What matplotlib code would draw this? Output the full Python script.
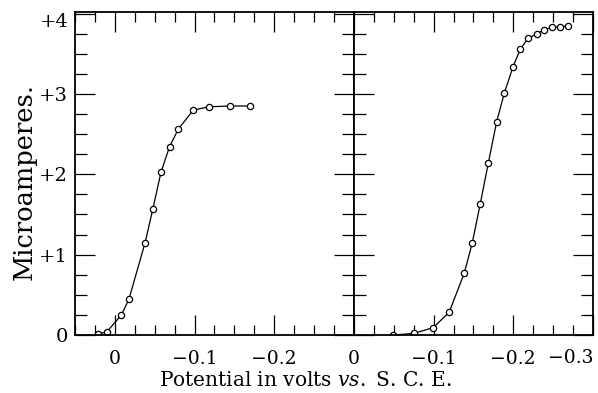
import matplotlib
matplotlib.use("Agg")
import matplotlib.pyplot as plt
from matplotlib.ticker import MultipleLocator, FixedLocator, FixedFormatter

# Data (potential in volts vs. S.C.E., current in microamperes)
left_potential = [0.0215, 0.010, -0.0083, -0.0178, -0.038, -0.0476, -0.058, -0.0687,
                  -0.0795, -0.0985, -0.118, -0.144, -0.170]
left_current = [0.01, 0.04, 0.25, 0.45, 1.15, 1.565, 2.03, 2.345,
                2.56, 2.80, 2.84, 2.85, 2.85]

right_potential = [-0.0494, -0.0755, -0.0997, -0.1195, -0.1384, -0.1484, -0.1585, -0.1686,
                   -0.179, -0.1887, -0.1996, -0.2088, -0.2189, -0.2296, -0.2386, -0.249,
                   -0.2589, -0.2692]
right_current = [0.0, 0.02, 0.093, 0.283, 0.768, 1.142, 1.631, 2.138,
                 2.650, 3.010, 3.337, 3.559, 3.695, 3.748, 3.802, 3.829,
                 3.838, 3.842]

y_ticks = [0, 1, 2, 3, 4]
y_ticklabels = ["0", "+1", "+2", "+3", "+4"]
left_xticks = [0, -0.1, -0.2]
left_xticklabels = ["0", "\u22120.1", "\u22120.2"]
right_xticks = [0, -0.1, -0.2, -0.3]
right_xticklabels = ["0", "\u22120.1", "\u22120.2", "\u22120.3"]

plt.rcParams['font.family'] = ['DejaVu Serif']
plt.rcParams['mathtext.fontset'] = 'dejavuserif'

W, H = 598, 393
AX_L, AX_R, AX_T, AX_B = 75, 593, 12, 335

fig = plt.figure(figsize=(W / 100, H / 100), dpi=100)
gs = fig.add_gridspec(1, 2, width_ratios=[0.35, 0.30], wspace=0,
                      left=AX_L / W, right=AX_R / W, bottom=1 - AX_B / H, top=1 - AX_T / H)
axL = fig.add_subplot(gs[0])
axR = fig.add_subplot(gs[1], sharey=axL)

for ax in (axL, axR):
    for s in ax.spines.values():
        s.set_linewidth(1.3)
    ax.set_ylim(0, 4.02)
    ax.yaxis.set_major_locator(FixedLocator(y_ticks))
    ax.yaxis.set_minor_locator(MultipleLocator(0.25))
    ax.xaxis.set_minor_locator(MultipleLocator(0.025))
    ax.tick_params(which='both', direction='in', top=True, bottom=True, left=True, right=True,
                   width=0.9, color='black')
    ax.tick_params(axis='y', which='major', length=14.4, pad=5, labelsize=14)
    ax.tick_params(axis='y', which='minor', length=8.6)
    ax.tick_params(axis='x', which='major', length=14.4, pad=11, labelsize=13.5)
    ax.tick_params(axis='x', which='minor', length=7.2)

axL.set_xlim(0.05, -0.3)
axR.set_xlim(0, -0.3)

axL.xaxis.set_major_locator(FixedLocator(left_xticks + [-0.3]))
axL.xaxis.set_major_formatter(FixedFormatter(left_xticklabels + [""]))
axR.xaxis.set_major_locator(FixedLocator(right_xticks))
# the last x label ends at the panel edge, the top y label sits a little below the top
axR.xaxis.set_major_formatter(FixedFormatter(right_xticklabels[:-1] + [""]))
fig.text(AX_R / W, 1 - 358 / H, right_xticklabels[-1], ha='right', va='center', fontsize=13.5)

axL.yaxis.set_major_formatter(FixedFormatter(y_ticklabels[:-1] + [""]))
fig.text(69 / W, 1 - 22 / H, y_ticklabels[-1], ha='right', va='center', fontsize=14)
axR.tick_params(axis='y', which='both', labelleft=False)

style = dict(color='black', linewidth=0.9, marker='o', markersize=4.5,
             markerfacecolor='white', markeredgecolor='black', markeredgewidth=0.9)
axL.plot(left_potential, left_current, **style)
axR.plot(right_potential, right_current, **style)

fig.text(305 / W, 1 - 380 / H, r"Potential in volts $\mathit{vs.}$ S. C. E.",
         ha='center', va='center', fontsize=14.5)
fig.text(24 / W, 1 - 182 / H, "Microamperes.", rotation=90,
         ha='center', va='center', fontsize=18.5)

fig.savefig("out.png", dpi=100)
